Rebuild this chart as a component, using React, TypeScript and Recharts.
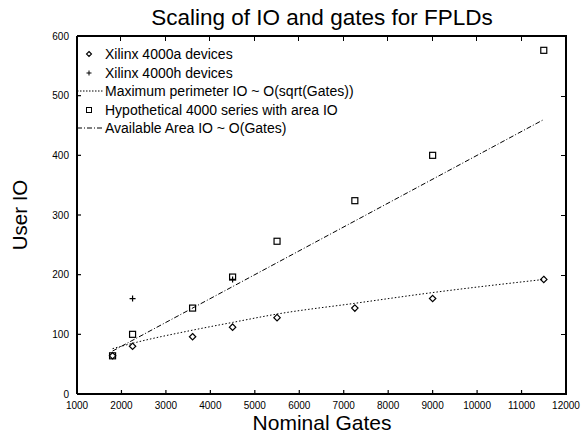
import React from 'react';
import { ComposedChart, Line, Scatter, XAxis, YAxis } from 'recharts';

const gateTicks = [1000, 2000, 3000, 4000, 5000, 6000, 7000, 8000, 9000, 10000, 11000, 12000];
const ioTicks = [0, 100, 200, 300, 400, 500, 600];

// Xilinx 4000a devices
const gates4000a = [1800, 2250, 3600, 4500, 5500, 7250, 9000, 11500];
const io4000a = [64, 80, 96, 112, 128, 144, 160, 192];

// Xilinx 4000h devices
const gates4000h = [2250, 4500];
const io4000h = [160, 192];

// hypothetical area IO
const gatesArea = [1800, 2250, 3600, 4500, 5500, 7250, 9000, 11500];
const ioArea = [64, 100, 144, 196, 256, 324, 400, 576];

// perimeter IO curve
const gatesPerim = [1800, 2250, 3600, 4500, 5500, 7250, 9000, 11500];
const ioPerim = [76, 85, 107, 120, 134, 152, 170, 192];

// available area line
const gatesAvail = [1800, 11500];
const ioAvail = [72, 460];

const zip = (xs: number[], ys: number[]) => xs.map((x, i) => ({ x, y: ys[i] }));

const FONT = '"Liberation Sans", Arial, Helvetica, sans-serif';

// plot box (chart margins + axis sizes)
const MARGIN = { top: 36, right: 16, bottom: 20, left: 37 };
const Y_AXIS_W = 40;
const X_AXIS_H = 20;
const W = 582;
const H = 434;
const PLOT_L = MARGIN.left + Y_AXIS_W;
const PLOT_T = MARGIN.top;
const PLOT_W = W - MARGIN.right - PLOT_L;
const PLOT_H = H - MARGIN.bottom - X_AXIS_H - PLOT_T;
const X0 = gateTicks[0];
const X1 = gateTicks[gateTicks.length - 1];
const Y1 = ioTicks[ioTicks.length - 1];

const Diamond = (p: any) => {
    const { cx, cy } = p;
    const r = 3.2;
    return <path d={`M${cx},${cy - r}L${cx + r},${cy}L${cx},${cy + r}L${cx - r},${cy}Z`} fill="none" stroke="#000" strokeWidth={1.2} />;
};

const Plus = (p: any) => {
    const { cx, cy } = p;
    return <path d={`M${cx - 3},${cy}H${cx + 3}M${cx},${cy - 3}V${cy + 3}`} stroke="#000" strokeWidth={1.2} />;
};

const Square = (p: any) => {
    const { cx, cy } = p;
    return <rect x={cx - 3} y={cy - 3} width={6} height={6} fill="none" stroke="#000" strokeWidth={1.2} />;
};

const BottomTick = (p: any) => {
    const { x, y, payload } = p;
    return (
        <g>
            <line x1={x} x2={x} y1={y} y2={y - 4} stroke="#000" strokeWidth={1.2} />
            <text x={x} y={y + 15} textAnchor="middle" fontSize={10} fontFamily={FONT} fill="#000">{payload.value}</text>
        </g>
    );
};

const LeftTick = (p: any) => {
    const { x, y, payload } = p;
    return (
        <g>
            <line x1={x} x2={x + 4} y1={y} y2={y} stroke="#000" strokeWidth={1.2} />
            <text x={x - 8} y={y + 3.5} textAnchor="end" fontSize={10} fontFamily={FONT} fill="#000">{payload.value}</text>
        </g>
    );
};

const legendRows = [
    { label: 'Xilinx 4000a devices', kind: 'diamond' },
    { label: 'Xilinx 4000h devices', kind: 'plus' },
    { label: 'Maximum perimeter IO ~ O(sqrt(Gates))', kind: 'dotted' },
    { label: 'Hypothetical 4000 series with area IO', kind: 'square' },
    { label: 'Available Area IO ~ O(Gates)', kind: 'dashdot' },
];

const SmallDiamond = ({ cx, cy }: { cx: number; cy: number }) => (
    <path d={`M${cx},${cy - 2.5}L${cx + 2.5},${cy}L${cx},${cy + 2.5}L${cx - 2.5},${cy}Z`} fill="none" stroke="#000" strokeWidth={1.1} />
);

function LegendSample({ kind }: { kind: string }) {
    return (
        <svg width={28} height={12} style={{ display: 'block' }}>
            {kind === 'diamond' && <SmallDiamond cx={13} cy={6} />}
            {kind === 'plus' && <path d="M10.5,6H15.5M13,3.5V8.5" stroke="#000" strokeWidth={1} />}
            {kind === 'square' && <rect x={10.5} y={3.5} width={5} height={5} fill="none" stroke="#000" strokeWidth={1} />}
            {kind === 'dotted' && <line x1={1} x2={27} y1={6} y2={6} stroke="#000" strokeDasharray="1.5 1.5" />}
            {kind === 'dashdot' && <line x1={1} x2={27} y1={6} y2={6} stroke="#000" strokeDasharray="5 2 1 2" />}
        </svg>
    );
}

// top and right edges of the gnuplot-style frame, with inward ticks
function FrameEdges() {
    return (
        <>
            <div style={{
                position: 'absolute', left: PLOT_L, top: PLOT_T - 1, width: PLOT_W - 1, height: PLOT_H,
                borderTop: '2px solid #000', borderRight: '2px solid #000', pointerEvents: 'none', zIndex: 2,
            }} />
            {gateTicks.slice(1, -1).map((t) => (
                <div key={'t' + t} style={{
                    position: 'absolute', left: Math.round(PLOT_L + ((t - X0) / (X1 - X0)) * PLOT_W) - 1, top: PLOT_T,
                    width: 1, height: 5, background: '#000', zIndex: 2,
                }} />
            ))}
            {ioTicks.slice(1, -1).map((v) => (
                <div key={'r' + v} style={{
                    position: 'absolute', left: PLOT_L + PLOT_W - 5, top: Math.round(PLOT_T + PLOT_H - (v / Y1) * PLOT_H),
                    width: 5, height: 1, background: '#000', zIndex: 2,
                }} />
            ))}
        </>
    );
}

export default function App() {
    return (
        <div style={{ position: 'absolute', left: 0, top: 0, width: W, height: H, background: '#fff', fontFamily: FONT, overflow: 'hidden' }}>
            <ComposedChart width={W} height={H} margin={MARGIN}>
                <XAxis type="number" dataKey="x" domain={[X0, X1]} ticks={gateTicks} height={X_AXIS_H}
                    interval={0} tickSize={0} tickMargin={0} tickLine={false} tick={<BottomTick />}
                    axisLine={{ stroke: '#000', strokeWidth: 2 }} />
                <YAxis type="number" dataKey="y" domain={[0, Y1]} ticks={ioTicks} width={Y_AXIS_W}
                    interval={0} tickSize={0} tickMargin={0} tickLine={false} tick={<LeftTick />}
                    axisLine={{ stroke: '#000', strokeWidth: 2 }} />

                <Line data={zip(gatesPerim, ioPerim)} dataKey="y" type="monotone"
                    stroke="#000" strokeWidth={1} strokeDasharray="1.5 2" dot={false} isAnimationActive={false} />
                <Line data={zip(gatesAvail, ioAvail)} dataKey="y" type="linear"
                    stroke="#000" strokeWidth={1} strokeDasharray="5 2 1 2" dot={false} isAnimationActive={false} />

                <Scatter data={zip(gates4000a, io4000a)} dataKey="y" shape={Diamond} isAnimationActive={false} />
                <Scatter data={zip(gates4000h, io4000h)} dataKey="y" shape={Plus} isAnimationActive={false} />
                <Scatter data={zip(gatesArea, ioArea)} dataKey="y" shape={Square} isAnimationActive={false} />
            </ComposedChart>

            <FrameEdges />

            <div style={{ position: 'absolute', left: 0, width: 644, top: 5, textAlign: 'center', fontSize: 22.5, lineHeight: '26px', whiteSpace: 'nowrap' }}>
                Scaling of IO and gates for FPLDs
            </div>
            <div style={{ position: 'absolute', left: 0, width: 644, top: 411, textAlign: 'center', fontSize: 21, lineHeight: '24px' }}>
                Nominal Gates
            </div>
            <div style={{ position: 'absolute', left: 20, top: 215, transform: 'translate(-50%, -50%) rotate(-90deg)', fontSize: 20.5, lineHeight: '24px', whiteSpace: 'nowrap' }}>
                User IO
            </div>

            <div style={{ position: 'absolute', left: 76, top: 45 }}>
                {legendRows.map((r) => (
                    <div key={r.label} style={{ display: 'flex', alignItems: 'center', height: 18.5 }}>
                        <LegendSample kind={r.kind} />
                        <span style={{ marginLeft: 1, fontSize: 14, whiteSpace: 'nowrap' }}>{r.label}</span>
                    </div>
                ))}
            </div>
        </div>
    );
}
